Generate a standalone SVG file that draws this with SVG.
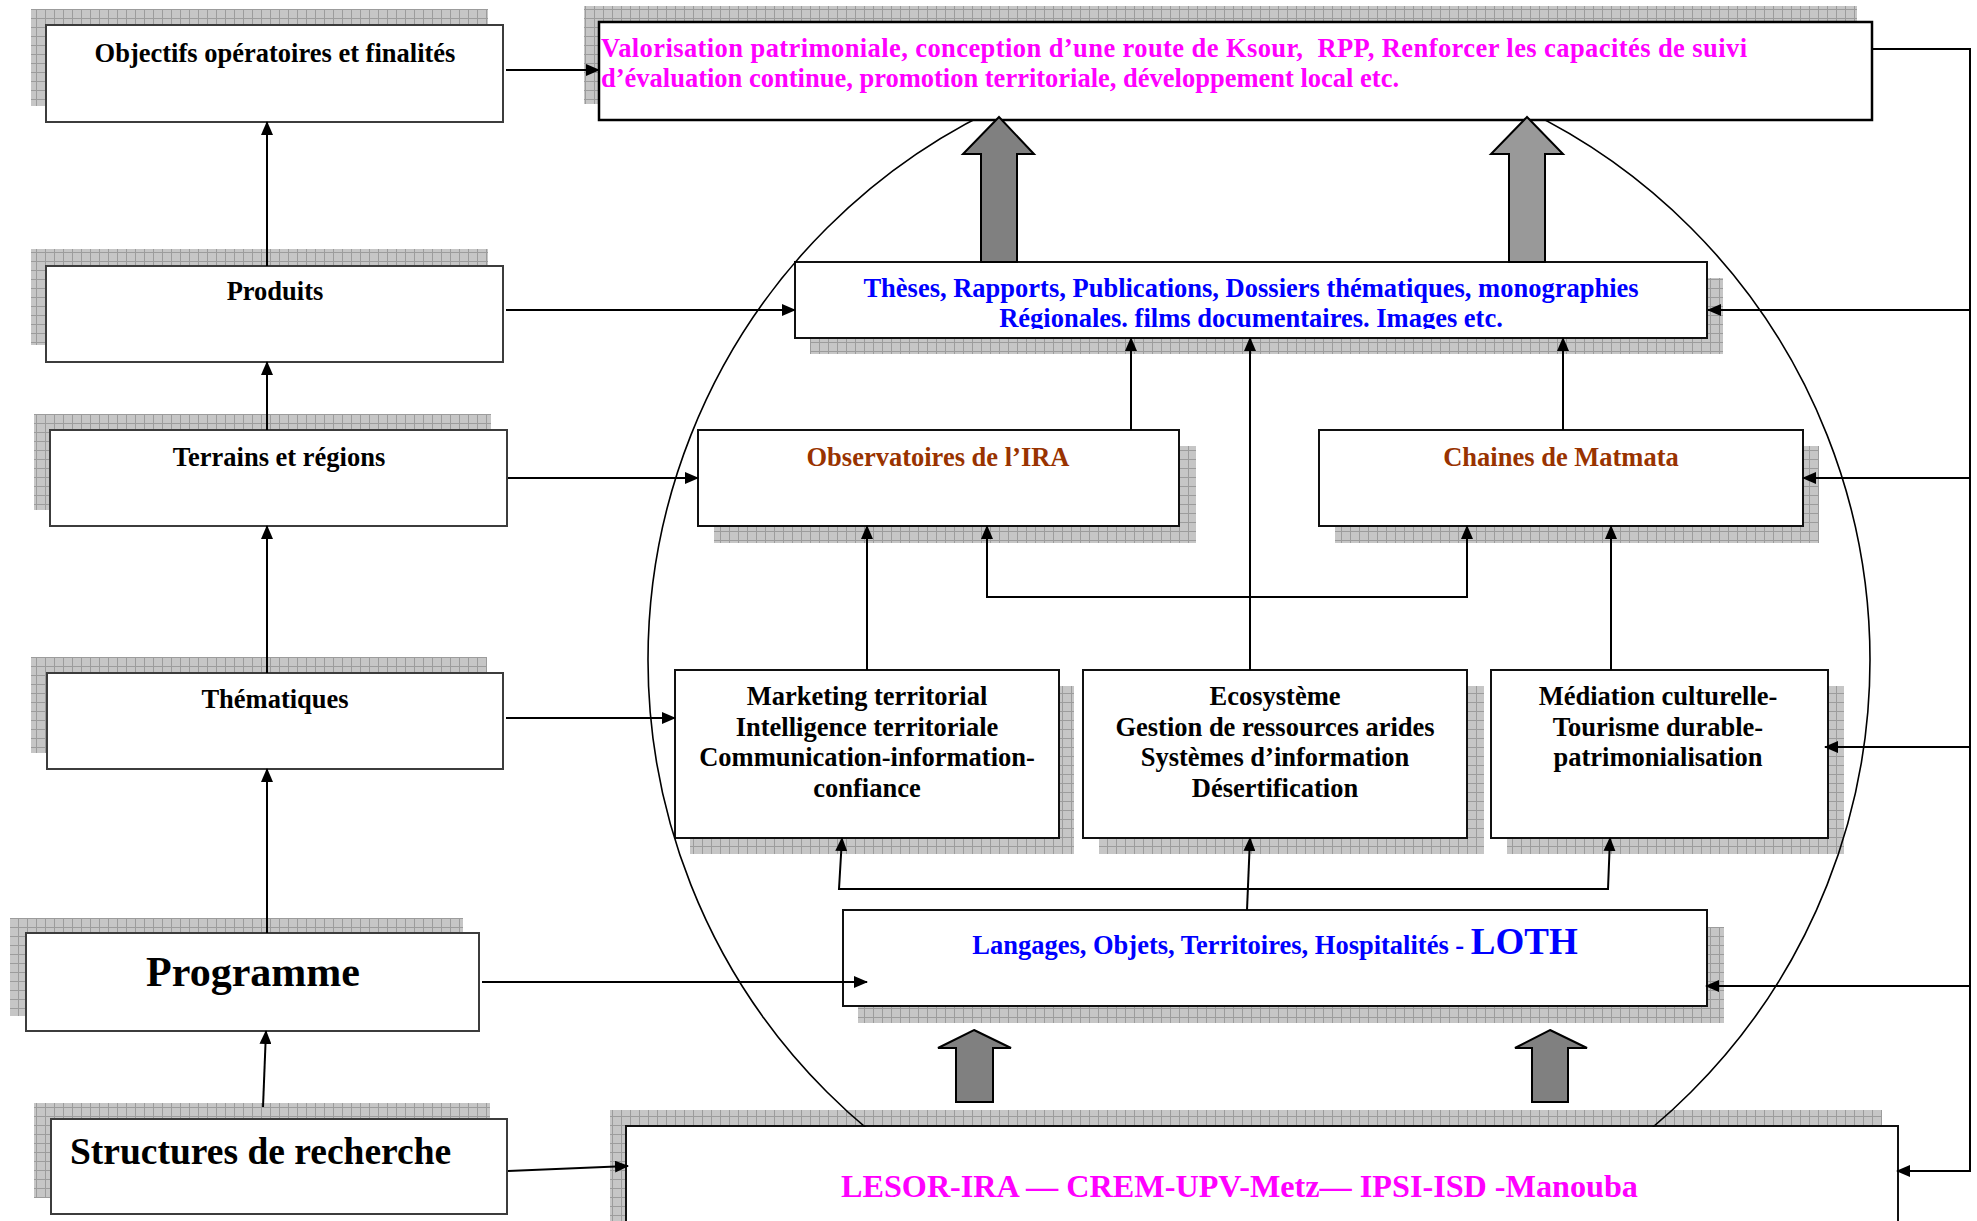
<svg xmlns="http://www.w3.org/2000/svg" width="1977" height="1221" viewBox="0 0 1977 1221">
<defs>
<pattern id="grid" width="9" height="9" patternUnits="userSpaceOnUse">
<rect width="9" height="9" fill="#c6c6c6"/>
<path d="M0 0.5H9M0.5 0V9" stroke="#9c9c9c" stroke-width="1"/>
</pattern>
<marker id="ah" markerWidth="14" markerHeight="12" refX="13" refY="6" orient="auto-start-reverse" markerUnits="userSpaceOnUse">
<path d="M0,0 L14,6 L0,12 z" fill="#000"/>
</marker>
<clipPath id="clipTheses"><rect x="795" y="262" width="912" height="67"/></clipPath>
<mask id="circleMask" maskUnits="userSpaceOnUse" x="0" y="0" width="1977" height="1221">
<rect width="1977" height="1221" fill="#fff"/>
<rect x="600" y="23" width="1271" height="96" fill="#000"/>
<rect x="796" y="263" width="910" height="74" fill="#000"/>
<rect x="627" y="1127" width="1270" height="118" fill="#000"/>
</mask>
</defs>
<style>
.sh{fill:url(#grid);}
.bl{fill:#fff;stroke:#3c3c3c;stroke-width:2;}
.bx{fill:#fff;stroke:#111;stroke-width:2;}
text{font-family:"Liberation Serif","Times New Roman",serif;font-weight:bold;font-size:26.5px;}
.k{fill:#000;}
.mg{fill:#ff00ff;}
.bu{fill:#0000ff;}
.br{fill:#993300;}
.c{text-anchor:middle;}
.ln{fill:none;stroke:#000;stroke-width:2;}
.arw{marker-end:url(#ah);}
.blk{stroke:#000;stroke-width:2;}
</style>
<rect width="1977" height="1221" fill="#fff"/>

<g id="objectifs">
<rect class="sh" x="31" y="9" width="457" height="97"/>
<rect class="bl" x="46" y="25" width="457" height="97"/>
<text class="k c" x="275" y="62">Objectifs opératoires et finalités</text>
</g>
<g id="produits">
<rect class="sh" x="31" y="249" width="457" height="96"/>
<rect class="bl" x="46" y="266" width="457" height="96"/>
<text class="k c" x="275" y="300">Produits</text>
</g>
<g id="terrains">
<rect class="sh" x="34" y="414" width="457" height="96"/>
<rect class="bl" x="50" y="430" width="457" height="96"/>
<text class="k c" x="279" y="466">Terrains et régions</text>
</g>
<g id="thematiques">
<rect class="sh" x="31" y="657" width="456" height="96"/>
<rect class="bl" x="47" y="673" width="456" height="96"/>
<text class="k c" x="275" y="708">Thématiques</text>
</g>
<g id="programme">
<rect class="sh" x="10" y="918" width="453" height="98"/>
<rect class="bl" x="26" y="933" width="453" height="98"/>
<text class="k c" x="253" y="986" style="font-size:42px">Programme</text>
</g>
<g id="structures">
<rect class="sh" x="34" y="1103" width="456" height="95"/>
<rect class="bl" x="51" y="1119" width="456" height="95"/>
<text class="k" x="70" y="1164" style="font-size:37.5px">Structures de recherche</text>
</g>

<g id="valorisation">
<rect class="sh" x="584" y="6" width="1273" height="98"/>
<rect class="bx" x="599" y="22" width="1273" height="98" style="stroke:#000;stroke-width:2.5"/>
<text class="mg" x="601" y="57" xml:space="preserve" textLength="1146" lengthAdjust="spacing">Valorisation patrimoniale, conception d’une route de Ksour,  RPP, Renforcer les capacités de suivi</text>
<text class="mg" x="601" y="87">d’évaluation continue, promotion territoriale, développement local etc.</text>
</g>
<g id="theses">
<rect class="sh" x="810" y="278" width="913" height="76"/>
<rect class="bx" x="795" y="262" width="912" height="76"/>
<g clip-path="url(#clipTheses)">
<text class="bu c" x="1251" y="297">Thèses, Rapports, Publications, Dossiers thématiques, monographies</text>
<text class="bu c" x="1251" y="327">Régionales. films documentaires. Images etc.</text>
</g>
</g>
<g id="observatoires">
<rect class="sh" x="714" y="446" width="482" height="97"/>
<rect class="bx" x="698" y="430" width="481" height="96"/>
<text class="br c" x="938" y="466">Observatoires de l’IRA</text>
</g>
<g id="chaines">
<rect class="sh" x="1335" y="446" width="484" height="97"/>
<rect class="bx" x="1319" y="430" width="484" height="96"/>
<text class="br c" x="1561" y="466">Chaines de Matmata</text>
</g>
<g id="marketing">
<rect class="sh" x="690" y="686" width="384" height="168"/>
<rect class="bx" x="675" y="670" width="384" height="168"/>
<text class="k c" x="867" y="705">Marketing territorial</text>
<text class="k c" x="867" y="735.5">Intelligence territoriale</text>
<text class="k c" x="867" y="766">Communication-information-</text>
<text class="k c" x="867" y="797">confiance</text>
</g>
<g id="ecosysteme">
<rect class="sh" x="1099" y="686" width="385" height="168"/>
<rect class="bx" x="1083" y="670" width="384" height="168"/>
<text class="k c" x="1275" y="705">Ecosystème</text>
<text class="k c" x="1275" y="735.5">Gestion de ressources arides</text>
<text class="k c" x="1275" y="766">Systèmes d’information</text>
<text class="k c" x="1275" y="797">Désertification</text>
</g>
<g id="mediation">
<rect class="sh" x="1507" y="686" width="337" height="168"/>
<rect class="bx" x="1491" y="670" width="337" height="168"/>
<text class="k c" x="1658" y="705">Médiation culturelle-</text>
<text class="k c" x="1658" y="735.5">Tourisme durable-</text>
<text class="k c" x="1658" y="766">patrimonialisation</text>
</g>
<g id="loth">
<rect class="sh" x="858" y="927" width="866" height="96"/>
<rect class="bx" x="843" y="910" width="864" height="96"/>
<text class="bu c" x="1275" y="954"><tspan>Langages, Objets, Territoires, Hospitalités - </tspan><tspan style="font-size:37px">LOTH</tspan></text>
</g>
<g id="lesor">
<rect class="sh" x="610" y="1110" width="1272" height="120"/>
<rect class="bx" x="626" y="1126" width="1272" height="120"/>
<text class="mg" x="841" y="1197" style="font-size:32.2px">LESOR-IRA — CREM-UPV-Metz— IPSI-ISD -Manouba</text>
</g>

<circle id="enveloppe" cx="1259" cy="660" r="611" fill="none" stroke="#000" stroke-width="1.6" mask="url(#circleMask)"/>

<g id="connectors">
<line class="ln arw" x1="506" y1="70" x2="599" y2="70"/>
<line class="ln arw" x1="506" y1="310" x2="795" y2="310"/>
<line class="ln arw" x1="508" y1="478" x2="698" y2="478"/>
<line class="ln arw" x1="506" y1="718" x2="675" y2="718"/>
<line class="ln arw" x1="482" y1="982" x2="867" y2="982"/>
<line class="ln arw" x1="508" y1="1171" x2="628" y2="1166"/>
<line class="ln arw" x1="267" y1="266" x2="267" y2="122"/>
<line class="ln arw" x1="267" y1="430" x2="267" y2="362"/>
<line class="ln arw" x1="267" y1="673" x2="267" y2="526"/>
<line class="ln arw" x1="267" y1="933" x2="267" y2="769"/>
<line class="ln arw" x1="263" y1="1107" x2="266" y2="1031"/>
<line class="ln arw" x1="1131" y1="430" x2="1131" y2="338"/>
<line class="ln arw" x1="1563" y1="430" x2="1563" y2="338"/>
<line class="ln arw" x1="1250" y1="670" x2="1250" y2="338"/>
<line class="ln arw" x1="867" y1="670" x2="867" y2="526"/>
<line class="ln arw" x1="1611" y1="670" x2="1611" y2="526"/>
<path class="ln" d="M987,526 V597 H1467 V526" marker-start="url(#ah)" marker-end="url(#ah)"/>
<line class="ln arw" x1="1247" y1="910" x2="1250" y2="838"/>
<path class="ln" d="M842,838 L839,889 H1608 L1610,838" marker-start="url(#ah)" marker-end="url(#ah)"/>
<path class="ln" d="M1872,49 H1970 V1172"/>
<line class="ln arw" x1="1970" y1="310" x2="1708" y2="310"/>
<line class="ln arw" x1="1970" y1="478" x2="1803" y2="478"/>
<line class="ln arw" x1="1970" y1="747" x2="1825" y2="747"/>
<line class="ln arw" x1="1970" y1="986" x2="1706" y2="986"/>
<line class="ln arw" x1="1970" y1="1171" x2="1897" y2="1171"/>
<polygon class="blk" fill="#808080" points="999,117 1034,154 1017,154 1017,262 981,262 981,154 963,154"/>
<polygon class="blk" fill="#999999" points="1527,117 1563,154 1545,154 1545,262 1509,262 1509,154 1491,154"/>
<polygon class="blk" fill="#808080" points="974,1030 1011,1048 993,1048 993,1102 956,1102 956,1048 938,1048"/>
<polygon class="blk" fill="#808080" points="1550,1030 1587,1048 1568,1048 1568,1102 1532,1102 1532,1048 1515,1048"/>
</g>
</svg>
